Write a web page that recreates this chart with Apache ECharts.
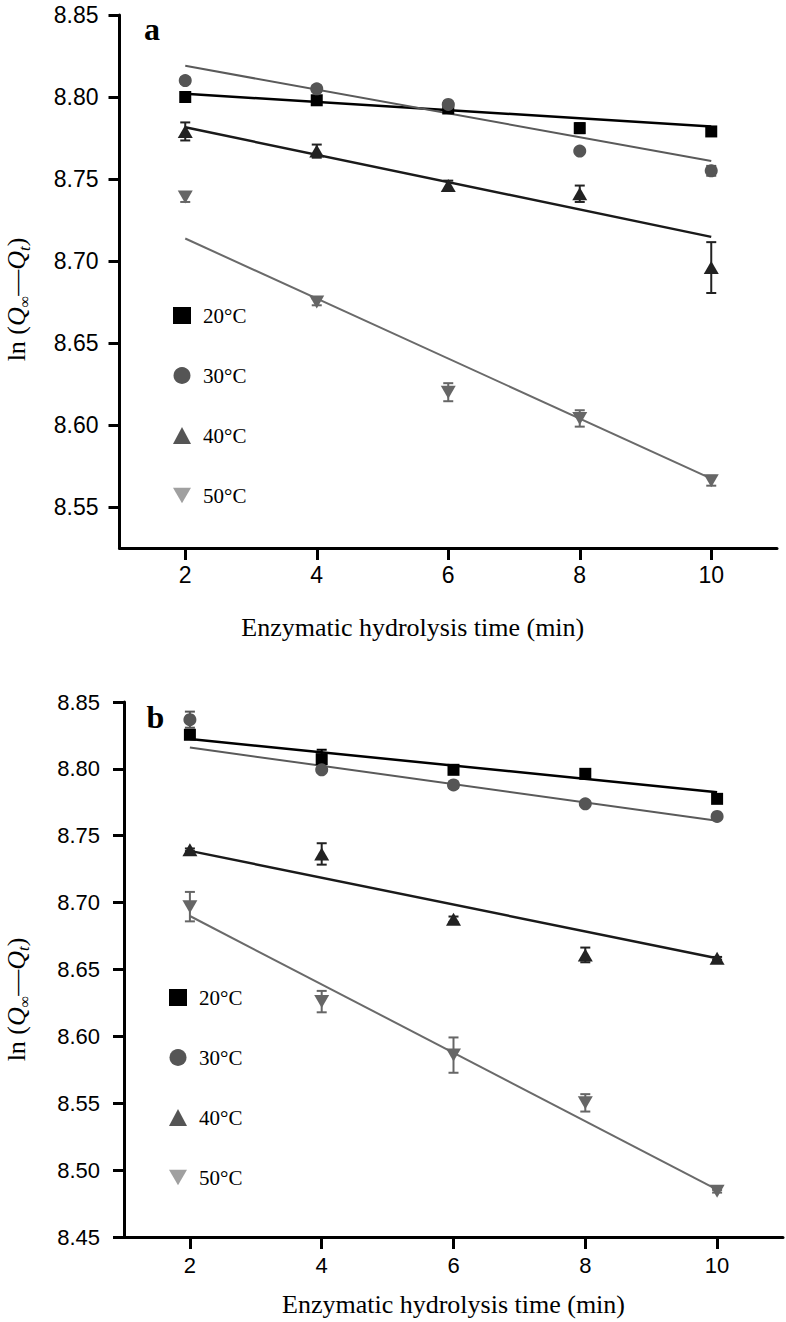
<!DOCTYPE html>
<html>
<head>
<meta charset="utf-8">
<script src="https://cdn.jsdelivr.net/npm/echarts@6/dist/echarts.min.js"></script>
<style>
html,body{margin:0;padding:0;background:#fff;}
#c{width:786px;height:1322px;}
</style>
</head>
<body>
<div id="c"></div>
<script>
// ---------- data ----------
const timeX = [2, 4, 6, 8, 10];
const fitX = [2, 10];
const xTicks = [2, 4, 6, 8, 10];
const yTicksA = [8.55, 8.60, 8.65, 8.70, 8.75, 8.80, 8.85];
const yTicksB = [8.45, 8.50, 8.55, 8.60, 8.65, 8.70, 8.75, 8.80, 8.85];
const seriesNames = ['20°C', '30°C', '40°C', '50°C'];

// panel a
const a20 = [8.800, 8.798, 8.793, 8.781, 8.779];
const a30 = [8.810, 8.805, 8.7955, 8.767, 8.755];
const a40 = [8.779, 8.767, 8.746, 8.741, 8.696];
const a50 = [8.739, 8.675, 8.620, 8.604, 8.566];
const errA20 = [0.002, 0.002, 0.002, 0.003, 0.002];
const errA30 = [0.002, 0.002, 0.002, 0.001, 0.003];
const errA40 = [0.0055, 0.004, 0.003, 0.005, 0.0155];
const errA50 = [0.003, 0.002, 0.0055, 0.005, 0.003];
const fitA20 = [8.802, 8.782];
const fitA30 = [8.819, 8.761];
const fitA40 = [8.7815, 8.7147];
const fitA50 = [8.7137, 8.5673];

// panel b
const b20 = [8.8255, 8.8073, 8.7993, 8.7963, 8.7776];
const b30 = [8.8368, 8.7993, 8.788, 8.7739, 8.7644];
const b40 = [8.7395, 8.7364, 8.6876, 8.6609, 8.6584];
const b50 = [8.697, 8.626, 8.586, 8.5503, 8.4842];
const errB20 = [0.002, 0.007, 0.002, 0.002, 0.002];
const errB30 = [0.006, 0.002, 0.002, 0.001, 0.001];
const errB40 = [0.001, 0.008, 0.002, 0.0055, 0.001];
const errB50 = [0.011, 0.008, 0.0132, 0.0065, 0.001];
const fitB20 = [8.8223, 8.7826];
const fitB30 = [8.816, 8.7612];
const fitB40 = [8.7387, 8.6584];
const fitB50 = [8.690, 8.4855];

// ---------- styles ----------
const markerColors = ['#000000', '#555555', '#222222', '#666666'];
const lineColors = ['#000000', '#5a5a5a', '#1a1a1a', '#6a6a6a'];
const lineWidths = [2.5, 2, 2.5, 2];
const legendColors = ['#000000', '#555555', '#555555', '#a0a0a0'];
const invTri = 'path://M0,0L10,0L5,8.66Z';
const symbols = ['rect', 'circle', 'triangle', 'triangle'];
const symbolSizes = [12, 13, [15, 13], [15, 13]];
const symbolRotates = [0, 0, 0, 180];
const legendIcons = ['rect', 'circle', 'triangle', invTri];

function pairs(xs, ys) { return xs.map((x, i) => [x, ys[i]]); }
function errData(xs, ys, es) { return xs.map((x, i) => [x, ys[i] - es[i], ys[i] + es[i]]); }

function errRender(params, api) {
  const x = api.value(0), lo = api.value(1), hi = api.value(2);
  const p1 = api.coord([x, hi]);
  const p2 = api.coord([x, lo]);
  const c = api.visual('color');
  const w = 5;
  const st = { stroke: c, lineWidth: 2 };
  return {
    type: 'group',
    children: [
      { type: 'line', shape: { x1: p1[0], y1: p1[1], x2: p2[0], y2: p2[1] }, style: st },
      { type: 'line', shape: { x1: p1[0] - w, y1: p1[1], x2: p1[0] + w, y2: p1[1] }, style: st },
      { type: 'line', shape: { x1: p2[0] - w, y1: p2[1], x2: p2[0] + w, y2: p2[1] }, style: st }
    ]
  };
}

const series = [];
function addPanel(idx, vals, errs, fits) {
  for (let k = 0; k < 4; k++) {
    series.push({
      name: 'err' + idx + '_' + k, type: 'custom', xAxisIndex: idx, yAxisIndex: idx,
      renderItem: errRender, itemStyle: { color: markerColors[k] },
      encode: { x: 0, y: [1, 2] }, data: errData(timeX, vals[k], errs[k]), z: 2, silent: true
    });
    series.push({
      name: 'fit' + idx + '_' + k, type: 'line', xAxisIndex: idx, yAxisIndex: idx,
      data: pairs(fitX, fits[k]), showSymbol: false, symbol: 'none',
      lineStyle: { color: lineColors[k], width: lineWidths[k] }, z: 3, silent: true
    });
    series.push({
      name: seriesNames[k], type: 'scatter', xAxisIndex: idx, yAxisIndex: idx,
      data: pairs(timeX, vals[k]), symbol: symbols[k], symbolSize: symbolSizes[k],
      symbolRotate: symbolRotates[k], itemStyle: { color: markerColors[k], opacity: 1 }, z: 4
    });
  }
}
addPanel(0, [a20, a30, a40, a50], [errA20, errA30, errA40, errA50], [fitA20, fitA30, fitA40, fitA50]);
addPanel(1, [b20, b30, b40, b50], [errB20, errB30, errB40, errB50], [fitB20, fitB30, fitB40, fitB50]);

const yName = '{n|ln (}{q|Q}{s|∞}{n|—}{q|Q}{t|t}{n|)}';
const yRich = {
  n: { fontFamily: 'Liberation Serif', fontSize: 26, color: '#000', lineHeight: 32 },
  q: { fontFamily: 'Liberation Serif', fontStyle: 'italic', fontSize: 26, color: '#000', lineHeight: 32 },
  s: { fontFamily: 'Liberation Serif', fontSize: 16, color: '#000', verticalAlign: 'bottom', lineHeight: 16 },
  t: { fontFamily: 'Liberation Serif', fontStyle: 'italic', fontSize: 17, color: '#000', verticalAlign: 'bottom', lineHeight: 17 }
};

function xAxisCfg(idx, fs, margin, gap, pad) {
  return {
    gridIndex: idx, type: 'value', min: 1, max: 11,
    axisLine: { show: true, lineStyle: { color: '#000', width: 3 } },
    axisTick: { show: true, length: 12, lineStyle: { color: '#000', width: 3 }, customValues: xTicks },
    axisLabel: { customValues: xTicks, margin: margin, fontSize: fs, color: '#000', fontFamily: 'Liberation Sans' },
    splitLine: { show: false },
    name: 'Enzymatic hydrolysis time (min)', nameLocation: 'middle', nameGap: gap,
    nameTextStyle: { fontFamily: 'Liberation Serif', fontSize: 26, color: '#000', padding: pad }
  };
}
function yAxisCfg(idx, min, ticks, fs, margin, gap, pad) {
  return {
    gridIndex: idx, type: 'value', min: min, max: 8.85,
    axisLine: { show: true, lineStyle: { color: '#000', width: 3 } },
    axisTick: { show: true, length: 11, lineStyle: { color: '#000', width: 3 }, customValues: ticks },
    axisLabel: { customValues: ticks, margin: margin, fontSize: fs, color: '#000', fontFamily: 'Liberation Sans',
                 formatter: v => v.toFixed(2) },
    splitLine: { show: false },
    name: yName, nameLocation: 'middle', nameRotate: 90, nameGap: gap,
    nameTextStyle: { rich: yRich, padding: pad }
  };
}

function legendCfg(left, top) {
  return {
    orient: 'vertical', left: left, top: top, itemWidth: 18, itemHeight: 17, itemGap: 39,
    selectedMode: false,
    textStyle: { fontFamily: 'Liberation Serif', fontSize: 21, color: '#000', lineHeight: 20, padding: [0, 0, 0, 7] },
    data: seriesNames.map((n, k) => ({ name: n, icon: legendIcons[k], itemStyle: { color: legendColors[k] } }))
  };
}

const option = {
  animation: false,
  backgroundColor: '#fff',
  grid: [
    { left: 119.5, top: 15, right: 9, height: 533, containLabel: false, outerBoundsMode: 'none' },
    { left: 124, top: 702, right: 3, height: 535, containLabel: false, outerBoundsMode: 'none' }
  ],
  xAxis: [xAxisCfg(0, 23, 15, 66, [0, 71, 0, 0]), xAxisCfg(1, 22, 17, 54, [0, 0, 0, 0])],
  yAxis: [yAxisCfg(0, 8.525, yTicksA, 23, 21, 87, [0, 36, 0, 0]), yAxisCfg(1, 8.45, yTicksB, 22, 24, 92, [0, 60, 0, 0])],
  legend: [legendCfg(168, 300), legendCfg(164, 982)],
  graphic: [
    { type: 'text', x: 152, y: 29, style: { text: 'a', fontFamily: 'Liberation Serif', fontWeight: 'bold', fontSize: 32, fill: '#000', align: 'center', verticalAlign: 'middle' } },
    { type: 'text', x: 155.5, y: 717, style: { text: 'b', fontFamily: 'Liberation Serif', fontWeight: 'bold', fontSize: 32, fill: '#000', align: 'center', verticalAlign: 'middle' } }
  ],
  series: series
};

const chart = echarts.init(document.getElementById('c'), null, { renderer: 'svg', width: 786, height: 1322 });
chart.setOption(option);
</script>
</body>
</html>
